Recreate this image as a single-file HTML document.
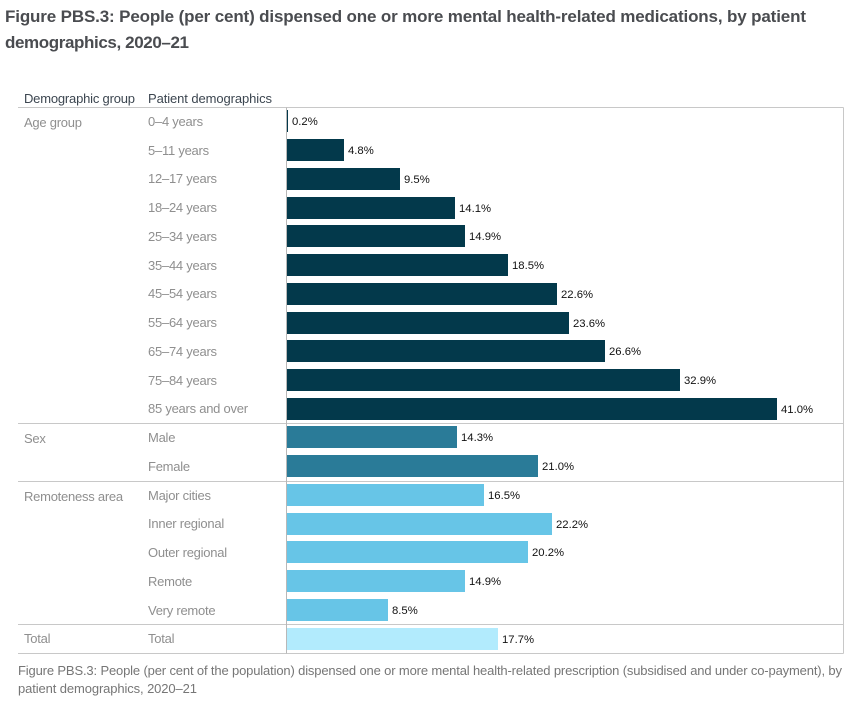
<!DOCTYPE html>
<html lang="en">
<head>
<meta charset="utf-8">
<title>Figure PBS.3</title>
<style>
html,body{margin:0;padding:0;background:#fff;width:855px;height:703px;overflow:hidden}
svg{display:block;font-family:"Liberation Sans",sans-serif}
</style>
</head>
<body>
<svg id="chart" width="855" height="703" viewBox="0 0 855 703">
  <text x="5" y="22" font-size="17" font-weight="700" fill="#4a4c50" textLength="801" lengthAdjust="spacing">Figure PBS.3: People (per cent) dispensed one or more mental health-related medications, by patient</text>
  <text x="5" y="48" font-size="17" font-weight="700" fill="#4a4c50" textLength="184" lengthAdjust="spacing">demographics, 2020–21</text>
  <text x="24" y="103" font-size="13" fill="#3c4650" textLength="111" lengthAdjust="spacing">Demographic group</text>
  <text x="148" y="103" font-size="13" fill="#3c4650" textLength="124" lengthAdjust="spacing">Patient demographics</text>
  <g id="bars"></g>
  <g id="grid"></g>
  <g id="labels"></g>
  <text x="18" y="675" font-size="13" fill="#767676" textLength="824" lengthAdjust="spacing">Figure PBS.3: People (per cent of the population) dispensed one or more mental health-related prescription (subsidised and under co-payment), by</text>
  <text x="18" y="693" font-size="13" fill="#767676" textLength="179" lengthAdjust="spacing">patient demographics, 2020–21</text>
</svg>
<script>
const categories = ["0–4 years","5–11 years","12–17 years","18–24 years","25–34 years","35–44 years","45–54 years","55–64 years","65–74 years","75–84 years","85 years and over","Male","Female","Major cities","Inner regional","Outer regional","Remote","Very remote","Total"];
const values = [0.2,4.8,9.5,14.1,14.9,18.5,22.6,23.6,26.6,32.9,41.0,14.3,21.0,16.5,22.2,20.2,14.9,8.5,17.7];
const groupNames = ["Age group","Sex","Remoteness area","Total"];
const groupSizes = [11,2,5,1];
const groupColors = ["#03394b","#2a7b98","#67c5e7","#b2ebfd"];

const NS = "http://www.w3.org/2000/svg";
const bars = document.getElementById("bars");
const labels = document.getElementById("labels");
const grid = document.getElementById("grid");

function xScale(v){ return Math.round(286 + v * 11.98); }
function yTop(i){ return Math.round(110.35 + 28.74 * i); }
function labelBase(i){ return Math.round(125.95 + 28.74 * i); }
function lineY(rows){ return Math.round(107 + 28.74 * rows) + 0.5; }
const barHeight = 22;

function make(tag, attrs, parent, text){
  const el = document.createElementNS(NS, tag);
  for (const k in attrs) el.setAttribute(k, attrs[k]);
  if (text !== undefined) el.textContent = text;
  parent.appendChild(el);
  return el;
}
function slug(s){ return s.toLowerCase().replace(/[^a-z0-9]+/g, "-").replace(/^-|-$/g, ""); }

let row = 0;
let lines = [107.5];
groupNames.forEach(function(name, g){
  const groupBase = labelBase(row) + (groupSizes[g] > 1 ? 1 : 0);
  const groupLabel = make("text", {x:24, y:groupBase, "font-size":13, "letter-spacing":"-0.25", fill:"#8f8f8f"}, labels, name);
  
  
  for (let n = 0; n < groupSizes[g]; n++, row++){
    const top = yTop(row);
    const w = xScale(values[row]) - xScale(0);
    const bar = make("rect", {x:xScale(0), y:top, width:w, height:barHeight, fill:groupColors[g]}, bars);
    
    
    const cat = make("text", {x:148, y:labelBase(row), "font-size":13, "letter-spacing":"-0.25", fill:"#8f8f8f"}, labels, categories[row]);
    
    
    const val = make("text", {x:xScale(values[row])+4, y:top+15, "font-size":11.3, fill:"#111"}, labels, values[row].toFixed(1) + "%");
    
    
  }
  lines.push(lineY(row));
});
lines.forEach(function(y, i){
  const line = make("line", {x1:18, x2:843.5, y1:y, y2:y, stroke:"#c8c8c8", "stroke-width":1}, grid);
  
  
});
const axisLine = make("line", {x1:286.5, x2:286.5, y1:107.5, y2:lines[lines.length-1], stroke:"#b8b8b8", "stroke-width":1}, grid);


const rightLine = make("line", {x1:843.5, x2:843.5, y1:107.5, y2:lines[lines.length-1], stroke:"#c8c8c8", "stroke-width":1}, grid);


</script>
</body>
</html>
